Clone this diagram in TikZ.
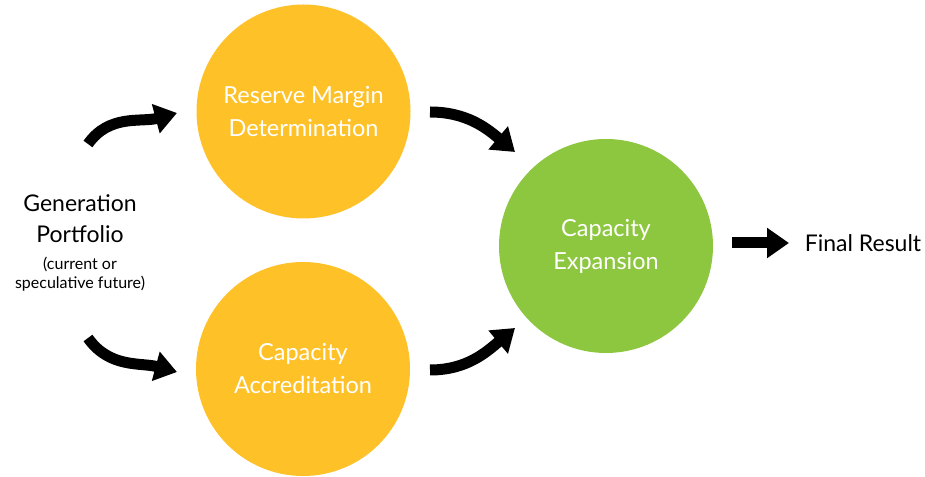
\documentclass[tikz,border=0pt]{standalone}
\usepackage{fontspec}
\setmainfont{Lato}
\usetikzlibrary{arrows.meta}
\definecolor{amber}{RGB}{254,194,40}
\definecolor{leaf}{RGB}{141,198,63}
\tikzset{
    stage/.style = {circle, minimum size=214pt, inner sep=0pt, align=center, text=white, font=\fontsize{23.5}{33}\selectfont},
    amber_stage/.style = {stage, fill=amber},
    leaf_stage/.style = {stage, fill=leaf},
    tnote/.style = {align=center, inner sep=0pt, text=black},
    flow/.style = {line width=11pt, -{Triangle[width=29pt,length=22pt]}}
}

\begin{document}
\begin{tikzpicture}[x=1pt, y=1pt]
    \useasboundingbox (0,0) rectangle (925,476);
    % circles
    \node [amber_stage] (reserve) at (303.5,364.5) {Reserve Margin\\Determination};
    \node [amber_stage] (accred) at (303,107) {Capacity\\Accreditation};
    \node [leaf_stage] (expand) at (606,230) {Capacity\\Expansion};
    % texts
    \node [tnote, font=\fontsize{23}{31}\selectfont] (gen) at (80,257) {Generation\\Portfolio};
    \node [tnote, font=\fontsize{16}{19}\selectfont] (note) at (80,202) {(current or\\speculative future)};
    \node [tnote, font=\fontsize{23}{24}\selectfont] (final) at (863,233) {Final Result};
    % arrow ends
    \coordinate (tl_s) at (88,332);
    \coordinate (tl_e) at (177,363);
    \coordinate (bl_s) at (88,138);
    \coordinate (bl_e) at (177,104);
    \coordinate (tr_s) at (430,364);
    \coordinate (tr_e) at (515,324);
    \coordinate (br_s) at (430,106);
    \coordinate (br_e) at (515,148);
    \coordinate (fr_s) at (732,233);
    \coordinate (fr_e) at (789,233);
    \draw [flow] (tl_s) to[out=55, in=195] (tl_e);
    \draw [flow] (bl_s) to[out=-55, in=165] (bl_e);
    \draw [flow] (tr_s) to[out=0, in=140] (tr_e);
    \draw [flow] (br_s) to[out=0, in=-140] (br_e);
    \draw [flow] (fr_s) -- (fr_e);
\end{tikzpicture}
\end{document}
